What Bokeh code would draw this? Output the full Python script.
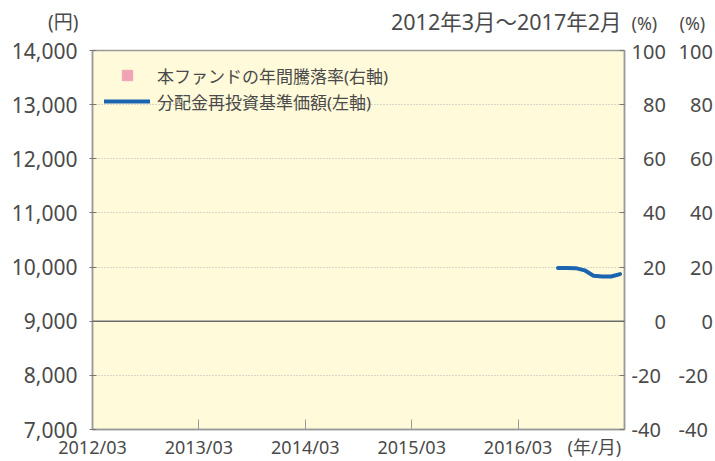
from bokeh.plotting import figure
from bokeh.layouts import column
from bokeh.models import (Range1d, LinearAxis, Legend, LegendItem, FixedTicker, Span)
from bokeh.core.properties import value
from bokeh.embed import file_html
from bokeh.resources import INLINE

# ---- data (x = months counted from 2012/03/01) ----
nav_months = [52.5, 53.5, 54.5, 55.5, 56.5, 57.5, 58.5, 59.5]
nav_values = [9985, 9985, 9980, 9940, 9840, 9825, 9825, 9870]
ret_months = [float("nan")]   # fund's annual return: no complete year yet
ret_values = [float("nan")]

x_ticks = [0, 12, 24, 36, 48]
x_tick_labels = ["2012/03", "2013/03", "2014/03", "2015/03", "2016/03"]
x_unit_label = "(年/月)"
left_ticks = [7000, 8000, 9000, 10000, 11000, 12000, 13000, 14000]
left_tick_labels = ["7,000", "8,000", "9,000", "10,000", "11,000", "12,000", "13,000", "14,000"]
right_ticks = [-40, -20, 0, 20, 40, 60, 80, 100]
right_tick_labels = ["-40", "-20", "0", "20", "40", "60", "80", "100"]

title_text = "2012年3月～2017年2月"
left_unit = "(円)"
right_unit = "(%)"
legend_labels = ["本ファンドの年間騰落率(右軸)", "分配金再投資基準価額(左軸)"]

FONT = "'Noto Sans', 'Noto Sans CJK JP'"
TXT = "#4a4a4a"
AX = "#9a9a9a"
W = 715
HEAD = 37

x_range = Range1d(0, 60)

# ---- header row: unit labels and period (axes aligned with the chart below) ----
# header y axis: pixels measured upward from the header's bottom edge
h = figure(width=W, height=HEAD, x_range=x_range, y_range=Range1d(0, HEAD),
           x_axis_location=None, y_axis_location=None, output_backend="svg",
           toolbar_location=None, min_border=0)
h.outline_line_color = None
h.grid.visible = False
h.background_fill_color = "white"


def unit_axis(pos, text, standoff, size):
    return LinearAxis(ticker=FixedTicker(ticks=[pos]), major_label_overrides={pos: text},
                      axis_line_color=None, major_tick_line_color=None,
                      minor_tick_line_color=None, major_tick_in=0, major_tick_out=0,
                      major_label_standoff=standoff, major_label_text_font=FONT,
                      major_label_text_font_size=size, major_label_text_color=TXT)


h.add_layout(unit_axis(10, left_unit, 14, "19px"), "left")
h.add_layout(unit_axis(9, right_unit, 7, "18px"), "right")
h.add_layout(unit_axis(9, right_unit, 19, "18px"), "right")
h.text(x=[60], y=[16], text=[title_text], x_offset=-3, text_align="right",
       text_baseline="middle", text_font=value(FONT), text_font_size="21.5px",
       text_color=TXT)

# ---- main chart ----
p = figure(width=W, height=461 - HEAD, x_range=x_range, y_range=Range1d(7000, 14000),
           output_backend="svg", toolbar_location=None, x_axis_location=None,
           min_border_left=92, min_border_right=89, min_border_top=13, min_border_bottom=20)
p.background_fill_color = "#fffad9"
p.border_fill_color = "white"
p.outline_line_color = AX
p.outline_line_width = 1.5
p.xgrid.visible = False

# bottom axis: inward ticks on the frame
xa = LinearAxis(ticker=FixedTicker(ticks=x_ticks),
                major_label_overrides={t: "" for t in x_ticks},
                major_tick_in=10, major_tick_out=0, minor_tick_line_color=None,
                axis_line_color=AX, axis_line_width=1.5, major_tick_line_color=AX,
                major_label_standoff=0, major_label_text_font_size="1px")
p.add_layout(xa, "below")
# bottom labels row (dates + unit)
lab_ticks = x_ticks + [56.6]
lab_texts = x_tick_labels + [x_unit_label]
xb = LinearAxis(ticker=FixedTicker(ticks=lab_ticks),
                major_label_overrides={t: l for t, l in zip(lab_ticks, lab_texts)},
                major_tick_in=0, major_tick_out=0, minor_tick_line_color=None,
                axis_line_color=None, major_tick_line_color=None,
                major_label_standoff=5, major_label_text_font=FONT,
                major_label_text_font_size="18px", major_label_text_color=TXT)
p.add_layout(xb, "below")

# left axis
ya = p.yaxis[0]
ya.ticker = FixedTicker(ticks=left_ticks)
ya.major_label_overrides = {t: l for t, l in zip(left_ticks, left_tick_labels)}
ya.major_tick_in = 4
ya.major_tick_out = 3
ya.minor_tick_line_color = None
ya.axis_line_color = AX
ya.axis_line_width = 1.5
ya.major_tick_line_color = "#777"
ya.major_label_standoff = 12
ya.major_label_text_font = FONT
ya.major_label_text_font_size = "21px"
ya.major_label_text_color = TXT

p.ygrid.ticker = FixedTicker(ticks=left_ticks)
p.ygrid.grid_line_color = "#b4b4b4"
p.ygrid.grid_line_dash = "1 2"
p.add_layout(Span(location=9000, dimension="width", line_color="#6a6a6a", line_width=1.5))

# right axes (percent)
p.extra_y_ranges = {"pct": Range1d(-40, 100)}
padded = {t: l.rjust(3, "\u2007") for t, l in zip(right_ticks, right_tick_labels)}
for i in range(2):
    ax = LinearAxis(y_range_name="pct", ticker=FixedTicker(ticks=right_ticks),
                    major_label_overrides=padded, minor_tick_line_color=None,
                    major_label_text_font=FONT, major_label_text_font_size="20px",
                    major_label_text_color=TXT)
    if i == 0:
        ax.major_tick_in = 5
        ax.major_tick_out = 0
        ax.axis_line_color = AX
        ax.axis_line_width = 1.5
        ax.major_tick_line_color = "#777"
        ax.major_label_standoff = 7
    else:
        ax.axis_line_color = None
        ax.major_tick_line_color = None
        ax.major_tick_in = 0
        ax.major_tick_out = 0
        ax.major_label_standoff = 10
    p.add_layout(ax, "right")

# series
r_ret = p.scatter(x=ret_months, y=ret_values, marker="square", size=11,
                  fill_color="#f0a3b5", line_color="#f0a3b5", y_range_name="pct")
r_nav = p.line(x=nav_months, y=nav_values, line_color="#1a64b0", line_width=4,
               line_cap="round")

legend = Legend(items=[LegendItem(label=legend_labels[0], renderers=[r_ret]),
                       LegendItem(label=legend_labels[1], renderers=[r_nav])],
                location="top_left", background_fill_alpha=0, border_line_color=None,
                glyph_width=46, glyph_height=26, spacing=0, margin=12, padding=2,
                label_standoff=7, label_text_font=FONT, label_text_font_size="17px",
                label_text_color=TXT)
p.add_layout(legend)

layout = column(h, p, spacing=0)
open("out.html", "w").write(file_html(layout, INLINE))
